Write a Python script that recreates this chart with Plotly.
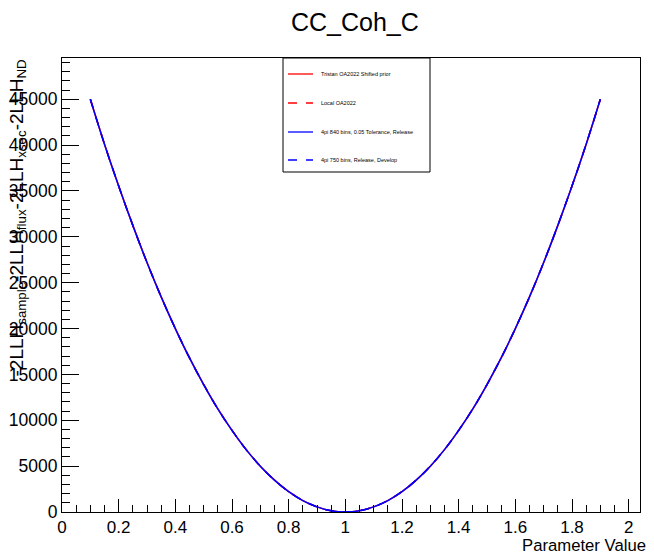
import plotly.graph_objects as go

# Likelihood scan for the CC_Coh_C parameter
param_values = [0.10, 0.15, 0.20, 0.25, 0.30, 0.35, 0.40, 0.45, 0.50, 0.55,
                0.60, 0.65, 0.70, 0.75, 0.80, 0.85, 0.90, 0.95, 1.00, 1.05,
                1.10, 1.15, 1.20, 1.25, 1.30, 1.35, 1.40, 1.45, 1.50, 1.55,
                1.60, 1.65, 1.70, 1.75, 1.80, 1.85, 1.90]
llh_values = [45000, 40100, 35550, 31250, 27200, 23450, 20000, 16800, 13900, 11250,
              8900, 6800, 5000, 3470, 2220, 1250, 560, 140, 0, 140,
              560, 1250, 2220, 3470, 5000, 6800, 8900, 11250, 13900, 16800,
              20000, 23450, 27200, 31250, 35550, 40100, 45000]

series_names = ["Tristan OA2022 Shifted prior", "Local OA2022",
                "4pi 840 bins, 0.05 Tolerance, Release", "4pi 750 bins, Release, Develop"]
series_colors = ["#ff0000", "#ff0000", "#0000ff", "#0000ff"]
series_dash = ["solid", "dash", "solid", "dash"]

FONT = "Liberation Sans, Arial, Helvetica, sans-serif"
W, H = 654, 556
L, R, T, B = 62, 14, 58, 44
PW, PH = W - L - R, H - T - B


def px_x(p):
    return (p - L) / PW


def px_y(p):
    return (H - B - p) / PH


fig = go.Figure()
for name, col, dash in zip(series_names, series_colors, series_dash):
    fig.add_trace(go.Scatter(
        x=param_values, y=llh_values, mode="lines", name=name,
        line=dict(color=col, width=1.5, dash=dash, shape="spline"),
        showlegend=False,
    ))

# Legend box drawn in pixel positions
shapes = [dict(type="rect", xref="paper", yref="paper",
               x0=px_x(283), x1=px_x(430), y0=px_y(172), y1=px_y(58),
               line=dict(color="black", width=1), fillcolor="white", layer="above")]
annotations = []
entry_y = [74, 103, 132, 160]
for name, col, dash, ey in zip(series_names, series_colors, series_dash, entry_y):
    shapes.append(dict(type="line", xref="paper", yref="paper",
                       x0=px_x(288), x1=px_x(313), y0=px_y(ey), y1=px_y(ey),
                       line=dict(color=col, width=1.3, dash="dash" if dash == "dash" else "solid"),
                       layer="above"))
    annotations.append(dict(text=name, xref="paper", yref="paper",
                            x=px_x(319), y=px_y(ey), xanchor="left", yanchor="middle",
                            showarrow=False, font=dict(size=5.5, color="black", family=FONT)))

# Title and axis titles
annotations.append(dict(text="CC_Coh_C", xref="paper", yref="paper",
                        x=px_x(355), y=px_y(22), xanchor="center", yanchor="middle",
                        showarrow=False, font=dict(size=25, color="black", family=FONT)))
annotations.append(dict(text="Parameter Value", xref="paper", yref="paper",
                        x=px_x(648), y=px_y(545), xanchor="right", yanchor="middle",
                        showarrow=False, font=dict(size=16.7, color="black", family=FONT)))
annotations.append(dict(text="-2LLH<sub>sample</sub>-2LLH<sub>flux</sub>-2LLH<sub>xsec</sub>-2LLH<sub>ND</sub>",
                        xref="paper", yref="paper", textangle=-90,
                        x=px_x(17), y=px_y(58), xanchor="center", yanchor="top",
                        showarrow=False, font=dict(size=19, color="black", family=FONT)))

fig.update_layout(
    width=W, height=H,
    margin=dict(l=L, r=R, t=T, b=B, autoexpand=False),
    paper_bgcolor="white", plot_bgcolor="white",
    font=dict(family=FONT, color="black"),
    shapes=shapes, annotations=annotations,
    showlegend=False,
)
fig.update_xaxes(
    range=[0, 2.04], showgrid=False, zeroline=False, automargin=False,
    showline=True, mirror=True, linecolor="black", linewidth=1,
    ticks="inside", ticklen=13, tickcolor="black", tickwidth=1,
    tick0=0, dtick=0.2, tickfont=dict(size=17, family=FONT),
    minor=dict(ticks="inside", ticklen=7, dtick=0.05, tick0=0, tickcolor="black", showgrid=False),
)
fig.update_yaxes(
    range=[0, 49500], showgrid=False, zeroline=False, automargin=False,
    showline=True, mirror=True, linecolor="black", linewidth=1,
    ticks="inside", ticklen=17, tickcolor="black", tickwidth=1,
    tick0=0, dtick=5000, tickformat="d", tickfont=dict(size=17.5, family=FONT),
    minor=dict(ticks="inside", ticklen=8, dtick=1000, tick0=0, tickcolor="black", showgrid=False),
)

fig.write_html("out.html")
